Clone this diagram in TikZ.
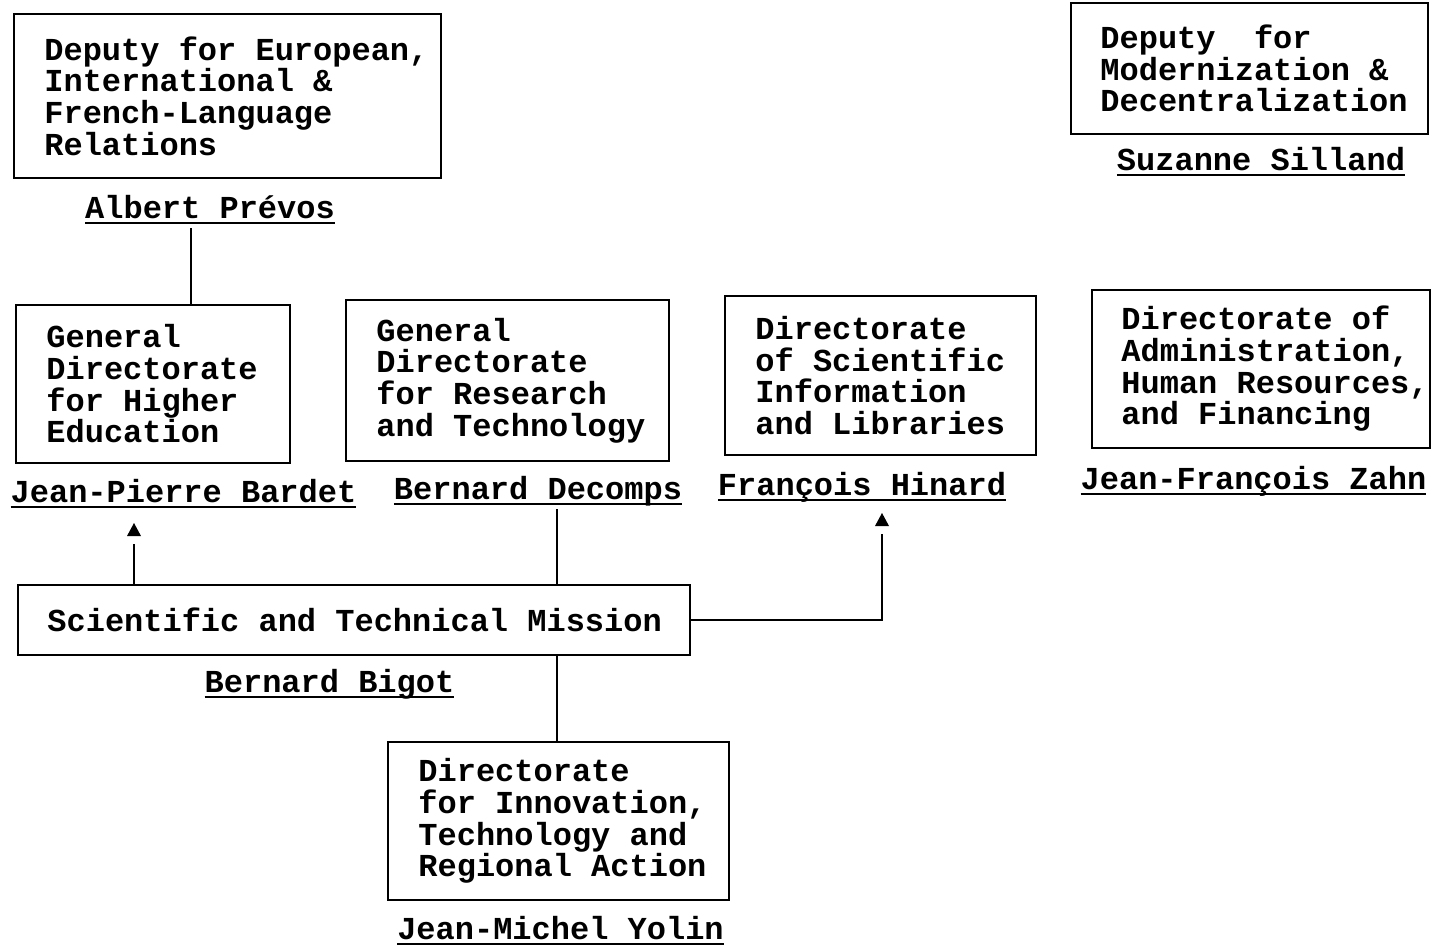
\documentclass[tikz,border=0pt]{standalone}
\usepackage{fontspec}
\usetikzlibrary{arrows.meta, positioning}
\setmonofont{Liberation Mono}
\newcommand{\orgfont}{\ttfamily\bfseries\fontsize{16pt}{15.85pt}\selectfont}
\newsavebox{\whobox}
\newcommand{\Who}[1]{\sbox{\whobox}{#1}\rlap{\vrule height -2.2pt depth 3pt width \wd\whobox}\usebox{\whobox}}
\tikzset{
    box/.style={draw, line width=1pt, inner sep=0pt},
    boxtext/.style={align=left, inner sep=0pt, font=\orgfont},
    person/.style={anchor=base, inner sep=0pt, font=\orgfont},
    link/.style={line width=1pt},
    uplink/.style={link, shorten >=10.5pt},
    tiphead/.pic={\fill (0,0) -- (-7,13) -- (7,13) -- cycle;},
}

\begin{document}
\begin{tikzpicture}[x=0.5pt, y=-0.5pt]
    \useasboundingbox (0,0) rectangle (1442,948);

    % deputies
    \node[box, minimum width=213.5pt, minimum height=82pt] (eur) at (227.5,96) {};
    \node[boxtext, right=15.5pt of eur.west] (eurtxt) {Deputy for European,\\International \&\\French-Language\\Relations};
    \node[person] (prevos) at (210,218) {\Who{Albert Prévos}};

    \node[box, minimum width=178.5pt, minimum height=65.5pt] (mod) at (1249.5,68.5) {};
    \node[boxtext, right=15pt of mod.west] (modtxt) {Deputy\ \ for\\Modernization \&\\Decentralization};
    \node[person] (silland) at (1261,170) {\Who{Suzanne Silland}};

    % directorates
    \node[box, minimum width=137pt, minimum height=79pt] (hied) at (153,384) {};
    \node[boxtext, right=15.5pt of hied.west] (hiedtxt) {General\\Directorate\\for Higher\\Education};
    \node[person] (bardet) at (183.5,502) {\Who{Jean-Pierre Bardet}};

    \node[box, minimum width=161.5pt, minimum height=80.5pt] (res) at (507.5,380.5) {};
    \node[boxtext, right=15.5pt of res.west] (restxt) {General\\Directorate\\for Research\\and Technology};
    \node[person] (decomps) at (538,499) {\Who{Bernard Decomps}};

    \node[box, minimum width=155.5pt, minimum height=79.5pt] (info) at (880.5,375.5) {};
    \node[boxtext, right=15.5pt of info.west] (infotxt) {Directorate\\of Scientific\\Information\\and Libraries};
    \node[person] (hinard) at (862,495) {\Who{François Hinard}};

    \node[box, minimum width=169pt, minimum height=79pt] (adm) at (1261,369) {};
    \node[boxtext, right=15pt of adm.west] (admtxt) {Directorate of\\Administration,\\Human Resources,\\and Financing};
    \node[person] (zahn) at (1253.5,489) {\Who{Jean-François Zahn}};

    % mission
    \node[box, minimum width=336pt, minimum height=35pt] (mis) at (354,620) {};
    \node[boxtext, right=15pt of mis.west] (mistxt) {Scientific and Technical Mission};
    \node[person] (bigot) at (329.5,692) {\Who{Bernard Bigot}};

    \node[box, minimum width=170.5pt, minimum height=79pt] (inno) at (558.5,821) {};
    \node[boxtext, right=15.5pt of inno.west] (innotxt) {Directorate\\for Innovation,\\Technology and\\Regional Action};
    \node[person] (yolin) at (560.5,939) {\Who{Jean-Michel Yolin}};

    % connectors
    \coordinate (dropP) at (191,228);
    \coordinate (dropD) at (557,509);
    \coordinate (tipB) at (134,523);
    \coordinate (tipH) at (882,513);

    \draw[link] (dropP) -- (dropP |- hied.north);
    \draw[link] (dropD) -- (dropD |- mis.north);
    \draw[link] (dropD |- mis.south) -- (dropD |- inno.north);
    \draw[uplink] (tipB |- mis.north) -- (tipB);
    \draw[uplink] (mis.east) -| (tipH);
    \pic at (tipB) {tiphead};
    \pic at (tipH) {tiphead};
\end{tikzpicture}
\end{document}
